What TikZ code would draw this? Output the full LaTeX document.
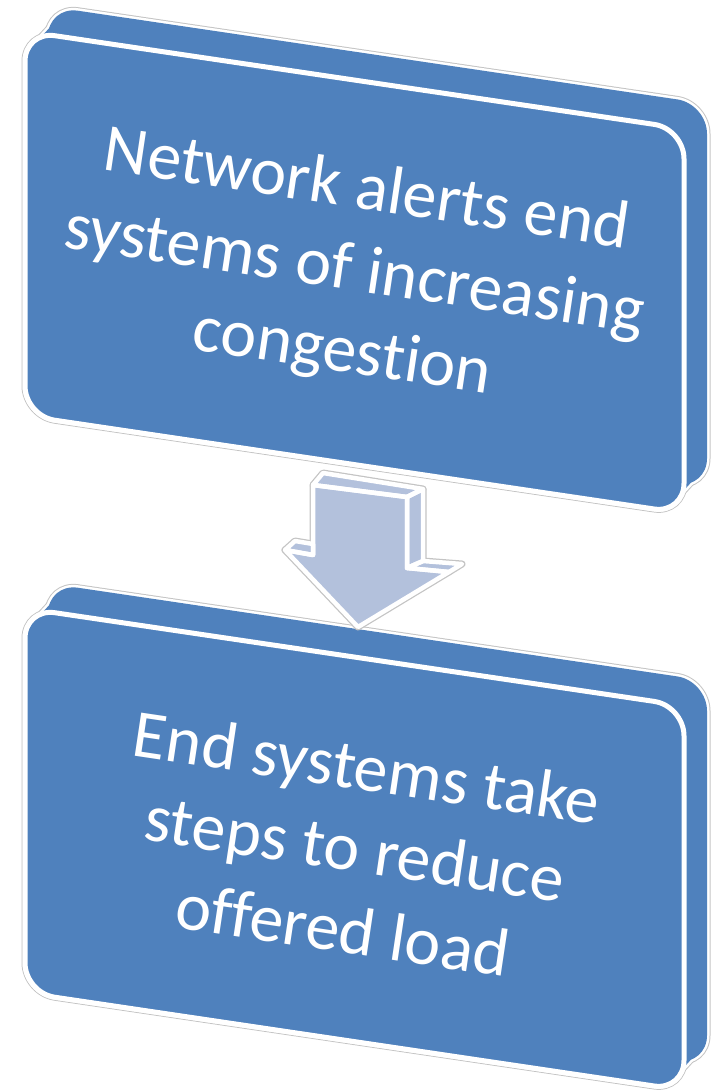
\documentclass[tikz,border=0pt]{standalone}
\usepackage{fontspec}
\setmainfont{Carlito}[Ligatures={NoCommon}]
\definecolor{boxblue}{HTML}{4F81BD}
\definecolor{arrowblue}{HTML}{B3C1DC}
\definecolor{rim}{HTML}{C4C4C4}
\tikzset{
  grayrim/.style={draw=rim,line width=7pt,line join=round},
  whiterim/.style={draw=white,line width=5pt,line join=round},
  bluefill/.style={fill=boxblue},
  lbl/.style={text=white,align=center,rotate=-8.5,inner sep=0pt,
    font=\fontsize{68}{82}\selectfont},
}
% the parts of one tilted box (front face, back face, two joining strips)
\newcommand\prismparts[1]{%
  \path[#1,rounded corners=30pt] (25,31.3) -- (684,128.8) -- (684,513.4) -- (25,415.8) -- cycle;
  \path[#1,rounded corners=30pt] (48,6.3) -- (707,103.8) -- (707,488.4) -- (48,390.8) -- cycle;
  \path[#1] (33,45.7) -- (56,20.7) -- (78,41) -- (55,66) -- cycle;
  \path[#1] (676,498.9) -- (699,473.9) -- (677,453.6) -- (654,478.6) -- cycle;
}
\newcommand\frontface[1]{%
  \path[#1,rounded corners=30pt] (25,31.3) -- (684,128.8) -- (684,513.4) -- (25,415.8) -- cycle;
}
% the faces of the 3-D arrow
\newcommand\arrowparts[1]{%
  \path[#1] (313,485) -- (323,473) -- (423,489) -- (407,497) -- cycle;
  \path[#1] (407,497) -- (423,489) -- (423,561) -- (407,568) -- cycle;
  \path[#1] (285,550) -- (295,541) -- (313,544) -- (313,555) -- cycle;
  \path[#1] (407,568) -- (423,561) -- (462,564) -- (449,572) -- cycle;
  \path[#1] (313,485) -- (407,497) -- (407,568) -- (449,572) -- (358,627) -- (285,550) -- (313,555) -- cycle;
}
\begin{document}
\begin{tikzpicture}[x=1pt,y=-1pt]
  \useasboundingbox (0,0) rectangle (711,1090);
  % upper box
  \begin{scope}
    \prismparts{grayrim}
    \prismparts{whiterim}
    \prismparts{bluefill}
    \frontface{whiterim,bluefill}
    \node[lbl] (t1) at (354,274) {\strut Network alerts end\\systems of increasing\\congestion\strut};
  \end{scope}
  % lower box
  \begin{scope}[shift={(0,577)}]
    \prismparts{grayrim}
    \prismparts{whiterim}
    \prismparts{bluefill}
    \frontface{whiterim,bluefill}
    \node[lbl] (t2) at (354,278) {\strut End systems take\\steps to reduce\\offered load\strut};
  \end{scope}
  % arrow
  \arrowparts{grayrim}
  \arrowparts{fill=arrowblue}
  \arrowparts{draw=white,line width=4.5pt,line join=round}
\end{tikzpicture}
\end{document}
